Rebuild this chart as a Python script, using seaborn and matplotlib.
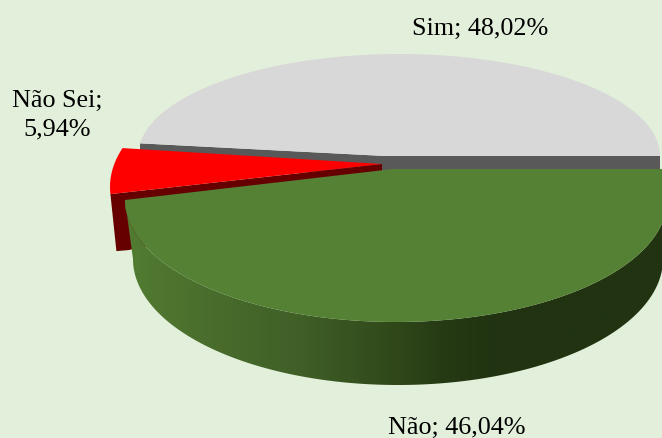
import numpy as np
import matplotlib
matplotlib.use("Agg")
import matplotlib.pyplot as plt
from matplotlib.colors import LinearSegmentedColormap
from matplotlib.patches import Polygon
import seaborn as sns

labels = ["Sim", "Não Sei", "Não"]
values = [48.02, 5.94, 46.04]

BG = "#E2EFDA"
sns.set_theme(style="white", rc={"figure.facecolor": BG, "axes.facecolor": BG})
plt.rcParams["font.family"] = ["Liberation Serif", "DejaVu Serif"]
top_colors = sns.color_palette(["#D8D8D8", "#FF0000", "#558135"])
wall_colors = sns.color_palette(["#595959", "#660000"])

edges = np.concatenate([[0], np.cumsum(values)]) * 3.6


def arc(a0, a1, ex, ey, a, b, off=0.0, scale=1.0, n=200):
    t = np.radians(a0 + off + np.linspace(0, a1 - a0, n) * scale)
    return np.column_stack([ex + a * np.cos(t), ey - b * np.sin(t)])


fig = plt.figure(figsize=(6.62, 4.39), dpi=100, facecolor=BG)
ax = fig.add_axes([0, 0, 1, 1])
ax.set_xlim(0, 662)
ax.set_ylim(439, 0)
ax.axis("off")

# Sim slice
g_arc = arc(edges[0], edges[1], 399, 157, 261, 102)
ax.add_patch(Polygon(np.vstack([[g_arc[-1]], [g_arc[-1] + [0, 20]], [[385, 178], [660, 178]], [g_arc[0]], [[385, 157]]]),
                     fc=wall_colors[0], ec="none", zorder=1))
ax.add_patch(Polygon(np.vstack([[[385, 157]], g_arc]), fc=top_colors[0], ec="none", zorder=2))

# Não Sei slice
r_arc = arc(edges[1], edges[2], 362, 188, 252, 125, off=-11)
ax.add_patch(Polygon(np.array([[382, 165], r_arc[-1], r_arc[-1] + [6, 57], r_arc[-1] + [18, 56], [382, 200]]),
                     fc=wall_colors[1], ec="none", zorder=3))
ax.add_patch(Polygon(np.vstack([[[382, 165]], r_arc]), fc=top_colors[1], ec="none", zorder=4))

# Não slice
off = 180 - edges[2]
scale = 180 / (edges[3] - edges[2])
top = arc(edges[2], edges[3], 396, 201, 271, 122, off=off, scale=scale)
low = arc(edges[2], edges[3], 398, 260, 265, 126, off=off, scale=scale)
wall = Polygon(np.vstack([top, low[::-1]]), fc="none", ec="none", zorder=5)
ax.add_patch(wall)
cmap = LinearSegmentedColormap.from_list(
    "wall", [(0.0, "#527C32"), (0.2, "#47692B"), (0.33, "#3F5F27"), (0.51, "#2F4719"),
             (0.59, "#263A14"), (0.70, "#213311"), (1.0, "#213311")])
im = ax.imshow(np.linspace(0, 1, 256)[None, :], cmap=cmap, extent=(125, 662, 439, 150),
               aspect="auto", zorder=5)
im.set_clip_path(wall)
ax.set_xlim(0, 662)
ax.set_ylim(439, 0)
ax.add_patch(Polygon(np.vstack([[[393, 170]], top, [[top[-1][0], 170]]]), fc=top_colors[2], ec="none", zorder=6))


def fmt(v):
    return f"{v:.2f}%".replace(".", ",")


fs = 18.8
ax.text(480, 29, f"{labels[0]}; {fmt(values[0])}", ha="center", va="center", fontsize=fs, color="black")
ax.text(57, 115, f"{labels[1]};\n{fmt(values[1])}", ha="center", va="center", fontsize=fs, color="black", linespacing=1.4)
ax.text(457, 428, f"{labels[2]}; {fmt(values[2])}", ha="center", va="center", fontsize=fs, color="black")

fig.savefig("out.png", dpi=100, facecolor=BG)
